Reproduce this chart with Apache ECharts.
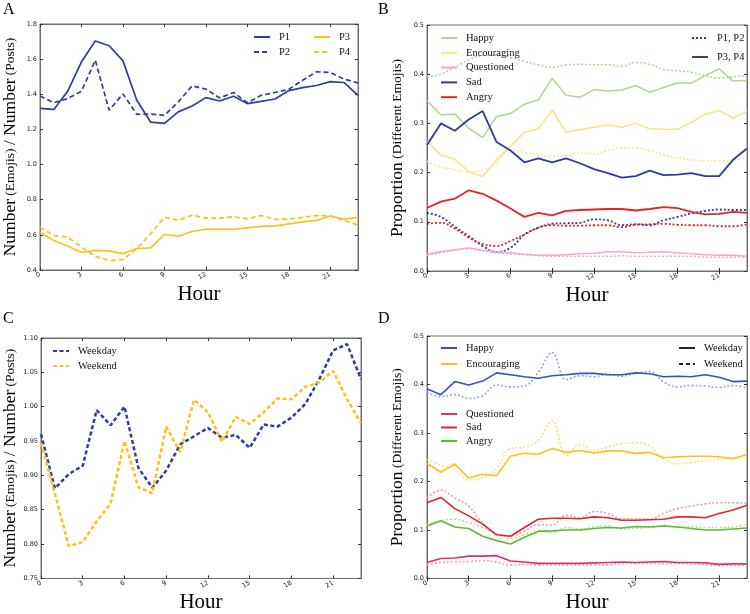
<!DOCTYPE html>
<html><head><meta charset="utf-8">
<script src="https://cdn.jsdelivr.net/npm/echarts@6/dist/echarts.min.js"></script>
<style>html,body{margin:0;padding:0;background:#fff}#c{width:750px;height:614px}</style>
</head><body><div id="c"></div>
<script>
const hours = ['0','1','2','3','4','5','6','7','8','9','10','11','12','13','14','15','16','17','18','19','20','21','22','23'];

// Panel A
const a_p1 = [1.32,1.314,1.417,1.585,1.703,1.676,1.59,1.366,1.242,1.234,1.30,1.333,1.381,1.362,1.389,1.347,1.36,1.373,1.421,1.438,1.45,1.472,1.467,1.394];
const a_p2 = [1.39,1.352,1.375,1.417,1.594,1.309,1.402,1.286,1.288,1.28,1.356,1.448,1.429,1.379,1.41,1.352,1.394,1.41,1.429,1.48,1.528,1.524,1.486,1.465];
const a_p3 = [0.615,0.568,0.537,0.50,0.512,0.509,0.493,0.522,0.526,0.602,0.592,0.619,0.632,0.632,0.632,0.64,0.648,0.651,0.663,0.674,0.682,0.707,0.69,0.699];
const a_p4 = [0.644,0.596,0.587,0.53,0.478,0.453,0.459,0.52,0.606,0.70,0.682,0.712,0.695,0.695,0.703,0.691,0.71,0.688,0.69,0.70,0.71,0.707,0.682,0.657];

// Panel B (solid = P3,P4 ; dotted = P1,P2)
const b_happy_p34 = [0.346,0.317,0.319,0.29,0.271,0.314,0.32,0.339,0.348,0.392,0.357,0.353,0.369,0.366,0.368,0.377,0.363,0.373,0.382,0.382,0.397,0.411,0.386,0.387];
const b_happy_p12 = [0.395,0.40,0.414,0.429,0.438,0.439,0.434,0.426,0.419,0.414,0.419,0.42,0.419,0.419,0.416,0.424,0.42,0.41,0.407,0.404,0.397,0.392,0.395,0.397];
const b_enc_p34 = [0.263,0.236,0.227,0.202,0.192,0.226,0.253,0.282,0.289,0.327,0.282,0.287,0.292,0.297,0.292,0.30,0.289,0.288,0.288,0.302,0.319,0.326,0.311,0.325];
const b_enc_p12 = [0.223,0.211,0.206,0.201,0.206,0.22,0.247,0.241,0.236,0.233,0.235,0.24,0.238,0.245,0.25,0.25,0.245,0.236,0.23,0.226,0.224,0.224,0.226,0.23];
const b_q_p34 = [0.034,0.039,0.043,0.047,0.042,0.039,0.037,0.034,0.032,0.032,0.033,0.035,0.036,0.039,0.039,0.037,0.038,0.039,0.037,0.035,0.033,0.032,0.032,0.030];
const b_q_p12 = [0.032,0.037,0.042,0.045,0.041,0.037,0.035,0.033,0.031,0.03,0.03,0.03,0.03,0.03,0.031,0.03,0.03,0.03,0.03,0.03,0.028,0.028,0.028,0.029];
const b_sad_p34 = [0.256,0.30,0.285,0.308,0.325,0.262,0.245,0.221,0.229,0.221,0.229,0.219,0.207,0.199,0.19,0.193,0.204,0.195,0.196,0.199,0.193,0.193,0.226,0.249];
const b_sad_p12 = [0.118,0.11,0.09,0.071,0.051,0.039,0.047,0.074,0.088,0.096,0.097,0.098,0.105,0.103,0.093,0.095,0.093,0.103,0.11,0.117,0.122,0.125,0.124,0.124];
const b_ang_p34 = [0.128,0.141,0.147,0.164,0.157,0.143,0.127,0.11,0.118,0.113,0.122,0.124,0.125,0.126,0.126,0.123,0.126,0.13,0.128,0.12,0.115,0.116,0.12,0.118];
const b_ang_p12 = [0.096,0.098,0.086,0.068,0.055,0.051,0.061,0.074,0.088,0.093,0.092,0.092,0.093,0.093,0.089,0.094,0.095,0.096,0.094,0.093,0.093,0.091,0.091,0.095];

// Panel C
const c_weekday = [0.96,0.881,0.902,0.914,0.995,0.973,1.00,0.911,0.882,0.907,0.945,0.957,0.969,0.955,0.959,0.94,0.974,0.971,0.984,1.004,1.04,1.082,1.091,1.04];
const c_weekend = [0.947,0.873,0.797,0.803,0.833,0.859,0.95,0.883,0.874,0.971,0.934,1.01,0.992,0.949,0.985,0.975,0.992,1.012,1.011,1.029,1.035,1.052,1.011,0.976];

// Panel D (solid = weekday ; dotted = weekend)
const d_happy_wd = [0.391,0.379,0.406,0.399,0.407,0.424,0.42,0.416,0.413,0.418,0.42,0.423,0.423,0.42,0.42,0.424,0.422,0.416,0.417,0.416,0.42,0.415,0.406,0.407];
const d_happy_we = [0.384,0.375,0.379,0.371,0.377,0.399,0.395,0.397,0.425,0.466,0.41,0.418,0.416,0.421,0.417,0.423,0.427,0.405,0.395,0.398,0.397,0.394,0.398,0.393];
const d_enc_wd = [0.237,0.219,0.236,0.207,0.215,0.212,0.252,0.258,0.256,0.268,0.26,0.264,0.259,0.263,0.263,0.258,0.26,0.249,0.251,0.252,0.252,0.251,0.247,0.256];
const d_enc_we = [0.245,0.234,0.224,0.203,0.207,0.227,0.268,0.271,0.285,0.325,0.254,0.276,0.264,0.271,0.278,0.28,0.273,0.247,0.236,0.239,0.242,0.246,0.249,0.249];
const d_q_wd = [0.033,0.041,0.042,0.046,0.046,0.047,0.036,0.034,0.031,0.031,0.031,0.031,0.032,0.033,0.034,0.033,0.034,0.035,0.033,0.033,0.032,0.029,0.03,0.03];
const d_q_we = [0.029,0.033,0.034,0.035,0.037,0.034,0.027,0.029,0.028,0.028,0.028,0.028,0.028,0.028,0.032,0.031,0.031,0.031,0.031,0.031,0.028,0.027,0.027,0.028];
const d_sad_wd = [0.156,0.167,0.144,0.129,0.112,0.09,0.087,0.105,0.122,0.124,0.124,0.123,0.127,0.125,0.12,0.12,0.121,0.122,0.127,0.127,0.125,0.134,0.141,0.151];
const d_sad_we = [0.166,0.182,0.166,0.149,0.115,0.092,0.088,0.098,0.111,0.11,0.13,0.125,0.138,0.134,0.123,0.123,0.122,0.134,0.144,0.149,0.154,0.156,0.156,0.155];
const d_ang_wd = [0.108,0.119,0.106,0.103,0.087,0.078,0.071,0.085,0.097,0.098,0.1,0.1,0.103,0.105,0.104,0.107,0.106,0.108,0.106,0.103,0.1,0.1,0.102,0.104];
const d_ang_we = [0.11,0.119,0.122,0.115,0.105,0.092,0.083,0.09,0.098,0.094,0.105,0.102,0.106,0.108,0.102,0.104,0.105,0.11,0.106,0.106,0.105,0.105,0.106,0.113];

const SERIF = 'Liberation Serif';
const SANS = 'DejaVu Sans';
const FRAME = '#707070';

const grids = [
  {left: 39, top: 24, width: 319, height: 246},
  {left: 427, top: 25, width: 320, height: 246},
  {left: 41, top: 338, width: 320, height: 245},
  {left: 427, top: 336, width: 320, height: 246}
];
const yCfg = [
  {min: 0.4, max: 1.8, interval: 0.2, dec: 1, name: '{a|Number} {b|(Emojis)} {a|/ Number} {b|(Posts)}'},
  {min: 0, max: 0.5, interval: 0.1, dec: 1, name: '{a|Proportion} {b|(Different Emojis)}'},
  {min: 0.75, max: 1.10, interval: 0.05, dec: 2, name: '{a|Number} {b|(Emojis)} {a|/ Number} {b|(Posts)}'},
  {min: 0, max: 0.5, interval: 0.1, dec: 1, name: '{a|Proportion} {b|(Different Emojis)}'}
];

const xAxis = [], yAxis = [];
grids.forEach((g, i) => {
  xAxis.push({
    type: 'category', gridIndex: i, data: hours, boundaryGap: false,
    axisLine: {show: true, lineStyle: {color: FRAME}},
    axisTick: {show: true, inside: true, length: 3, interval: 2, lineStyle: {color: '#333'}},
    axisLabel: {interval: 2, rotate: 30, fontFamily: SANS, fontSize: 6.5, color: '#222', margin: 4},
    name: 'Hour', nameLocation: 'middle', nameGap: 12,
    nameTextStyle: {fontFamily: SERIF, fontSize: 21, color: '#000'},
    splitLine: {show: false}
  });
  xAxis.push({
    type: 'category', gridIndex: i, data: hours, boundaryGap: false, position: 'top',
    axisLine: {show: true, lineStyle: {color: FRAME}},
    axisTick: {show: true, inside: true, length: 3, interval: 2, lineStyle: {color: '#333'}},
    axisLabel: {show: false}, splitLine: {show: false}
  });
  const c = yCfg[i];
  yAxis.push({
    type: 'value', gridIndex: i, min: c.min, max: c.max, interval: c.interval,
    axisLine: {show: true, lineStyle: {color: FRAME}},
    axisTick: {show: true, inside: true, length: 3, lineStyle: {color: '#333'}},
    axisLabel: {fontFamily: SANS, fontSize: 6.5, color: '#222', margin: 3,
      formatter: v => Number(v).toFixed(c.dec)},
    splitLine: {show: false},
    name: c.name, nameLocation: 'middle', nameRotate: 90, nameGap: 21,
    nameTextStyle: {rich: {
      a: {fontFamily: SERIF, fontSize: 17.5, color: '#000'},
      b: {fontFamily: SERIF, fontSize: 13.5, color: '#000'}
    }}
  });
  yAxis.push({
    type: 'value', gridIndex: i, min: c.min, max: c.max, interval: c.interval, position: 'right',
    axisLine: {show: true, lineStyle: {color: FRAME}},
    axisTick: {show: true, inside: true, length: 3, lineStyle: {color: '#333'}},
    axisLabel: {show: false}, splitLine: {show: false}
  });
});

const DOT = [2, 2];
function line(name, grid, data, color, type, width, smooth) {
  return {
    name: name, type: 'line', xAxisIndex: grid * 2, yAxisIndex: grid * 2,
    data: data, symbol: 'none', smooth: smooth || false, silent: true,
    lineStyle: {color: color, width: width, type: type || 'solid'},
    itemStyle: {color: color}
  };
}
function dummy(name, grid, color, type, width) {
  return line(name, grid, [], color, type, width);
}

// colors
const BLUE = '#2c3e9e', GOLD = '#fbc11c';
const B_HAPPY = '#a9d88e', B_ENC = '#fde08c', B_Q = '#f4a6cd', B_SAD = '#2c3e9e', B_ANG = '#e52329';
const D_HAPPY = '#3a52b4', D_HAPPY_L = '#96a6dc';
const D_ENC = '#fbc11c', D_ENC_L = '#fcdc86';
const D_Q = '#df2f6c', D_Q_L = '#f29cc0';
const D_SAD = '#e62428', D_SAD_L = '#f39a9a';
const D_ANG = '#62b833', D_ANG_L = '#b3dd98';

const series = [
  // A
  line('A|P1', 0, a_p1, BLUE, 'solid', 1.7),
  line('A|P2', 0, a_p2, BLUE, [5, 3], 1.7),
  line('A|P3', 0, a_p3, GOLD, 'solid', 1.7),
  line('A|P4', 0, a_p4, GOLD, [5, 3], 1.7),
  // B
  line('B|Happy-d', 1, b_happy_p12, B_HAPPY, DOT, 1.5, 0.4),
  line('B|Encouraging-d', 1, b_enc_p12, B_ENC, DOT, 1.5, 0.4),
  line('B|Questioned-d', 1, b_q_p12, B_Q, DOT, 1.5, 0.4),
  line('B|Sad-d', 1, b_sad_p12, B_SAD, DOT, 1.8, 0.4),
  line('B|Angry-d', 1, b_ang_p12, B_ANG, DOT, 1.8, 0.4),
  line('B|Happy', 1, b_happy_p34, B_HAPPY, 'solid', 1.5),
  line('B|Encouraging', 1, b_enc_p34, B_ENC, 'solid', 1.5),
  line('B|Questioned', 1, b_q_p34, B_Q, 'solid', 1.5),
  line('B|Sad', 1, b_sad_p34, B_SAD, 'solid', 1.8),
  line('B|Angry', 1, b_ang_p34, B_ANG, 'solid', 1.8),
  dummy('B|P1, P2', 1, B_SAD, DOT, 1.8),
  dummy('B|P3, P4', 1, B_SAD, 'solid', 1.8),
  // C
  line('C|Weekday', 2, c_weekday, BLUE, [4, 2.5], 2.5),
  line('C|Weekend', 2, c_weekend, GOLD, [4, 2.5], 2.5),
  // D
  line('D|Happy-d', 3, d_happy_we, D_HAPPY_L, DOT, 1.6, 0.4),
  line('D|Encouraging-d', 3, d_enc_we, D_ENC_L, DOT, 1.6, 0.4),
  line('D|Questioned-d', 3, d_q_we, D_Q_L, DOT, 1.6, 0.4),
  line('D|Sad-d', 3, d_sad_we, D_SAD_L, DOT, 1.6, 0.4),
  line('D|Angry-d', 3, d_ang_we, D_ANG_L, DOT, 1.6, 0.4),
  line('D|Happy', 3, d_happy_wd, D_HAPPY, 'solid', 1.6),
  line('D|Encouraging', 3, d_enc_wd, D_ENC, 'solid', 1.6),
  line('D|Questioned', 3, d_q_wd, D_Q, 'solid', 1.6),
  line('D|Sad', 3, d_sad_wd, D_SAD, 'solid', 1.6),
  line('D|Angry', 3, d_ang_wd, D_ANG, 'solid', 1.6),
  dummy('D|Weekday', 3, '#222', 'solid', 1.6),
  dummy('D|Weekend', 3, '#222', [4, 3], 1.6)
];

function legend(names, left, top, gap) {
  return {
    data: names, left: left, top: top, orient: 'vertical', padding: 0,
    itemGap: gap, itemWidth: 16, itemHeight: 10, selectedMode: false,
    itemStyle: {opacity: 0, borderWidth: 0},
    formatter: n => n.split('|')[1],
    textStyle: {fontFamily: SERIF, fontSize: 10.5, color: '#111', lineHeight: 12, padding: [0, 0, 0, 4]}
  };
}

const legends = [
  legend(['A|P1', 'A|P2'], 253, 31, 3),
  legend(['A|P3', 'A|P4'], 313, 31, 3),
  legend(['B|Happy', 'B|Encouraging', 'B|Questioned', 'B|Sad', 'B|Angry'], 440, 32, 2.8),
  legend(['B|P1, P2', 'B|P3, P4'], 691, 32, 7),
  legend(['C|Weekday', 'C|Weekend'], 52, 345, 3),
  legend(['D|Happy', 'D|Encouraging'], 440, 342, 4),
  legend(['D|Questioned', 'D|Sad', 'D|Angry'], 440, 408, 1.5),
  legend(['D|Weekday', 'D|Weekend'], 678, 342, 4)
];

const titles = [['A', 3, 2], ['B', 378, 2], ['C', 3, 311], ['D', 378, 311]].map(t => ({
  text: t[0], left: t[1], top: t[2], padding: 0,
  textStyle: {fontFamily: SERIF, fontSize: 16, fontWeight: 'normal', color: '#000'}
}));

const chart = echarts.init(document.getElementById('c'), null, {renderer: 'canvas'});
chart.setOption({
  animation: false,
  backgroundColor: '#fff',
  title: titles,
  grid: grids.map(g => Object.assign({show: true, borderColor: FRAME, borderWidth: 1, backgroundColor: 'transparent'}, g)),
  xAxis: xAxis,
  yAxis: yAxis,
  legend: legends,
  series: series
});
</script>
</body></html>
